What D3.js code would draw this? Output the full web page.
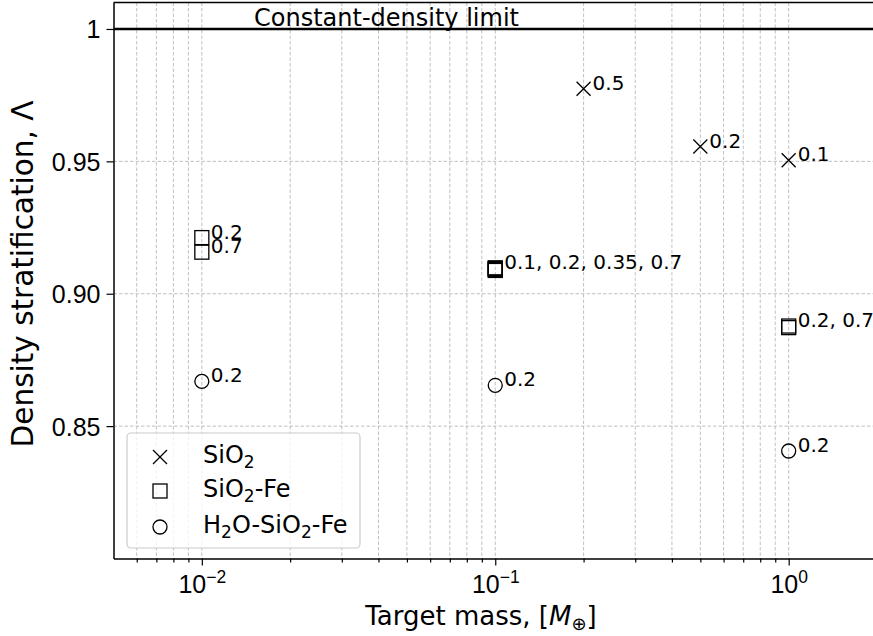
<!DOCTYPE html>
<html lang="en">
<head>
<meta charset="UTF-8">
<script src="https://d3js.org/d3.v7.min.js"></script>
<style>
  body { margin: 0; background: #fff; }
  svg { display: block; font-family: "DejaVu Sans", sans-serif; }
</style>
</head>
<body>
<svg id="chart" width="873" height="636"></svg>
<script>
// data
const sio2Mass = [0.2, 0.5, 1.0];
const sio2Lambda = [0.9774, 0.9556, 0.9504];
const sio2Notes = ["0.5", "0.2", "0.1"];

const sio2FeMass = [0.01, 0.01, 0.1, 0.1, 0.1, 0.1, 1.0, 1.0];
const sio2FeLambda = [0.9212, 0.9157, 0.9088, 0.9092, 0.9095, 0.9098, 0.8872, 0.8878];
const sio2FeNotes = ["0.2", "0.7", "", "", "", "0.1, 0.2, 0.35, 0.7", "", "0.2, 0.7"];

const h2oMass = [0.01, 0.1, 1.0];
const h2oLambda = [0.8669, 0.8654, 0.8406];
const h2oNotes = ["0.2", "0.2", "0.2"];

const yTicks = [0.85, 0.90, 0.95, 1.0];
const yTickLabels = ["0.85", "0.90", "0.95", "1"];
const xMajor = [0.01, 0.1, 1];
const xMajorExp = ["\u22122", "\u22121", "0"];

function plot() {
  const svg = d3.select("#chart");
  const left = 113.5, right = 877, top = 2.5, bottom = 558.5;

  const x = d3.scaleLog().domain([0.005, 2]).range([left, right]);
  const y = d3.scaleLinear().domain([0.80, 1.01]).range([bottom, top]);

  // minor ticks for the log axis
  const xMinor = [];
  for (let dec of [0.001, 0.01, 0.1, 1]) {
    for (let k = 2; k <= 9; k++) {
      const v = dec * k;
      if (v > 0.005 && v <= 2) xMinor.push(v);
    }
  }

  const grid = svg.append("g").attr("stroke", "#b0b0b0").attr("stroke-width", 0.8)
    .attr("stroke-dasharray", "3.5,2");
  grid.selectAll("line.xg").data(xMajor.concat(xMinor)).enter().append("line")
    .attr("x1", d => x(d)).attr("x2", d => x(d))
    .attr("y1", top).attr("y2", bottom);
  grid.selectAll("line.yg").data(yTicks.slice(0, 3)).enter().append("line")
    .attr("x1", left).attr("x2", right)
    .attr("y1", d => y(d)).attr("y2", d => y(d));

  // constant-density line
  svg.append("line")
    .attr("x1", left).attr("x2", right)
    .attr("y1", y(1)).attr("y2", y(1))
    .attr("stroke", "#000").attr("stroke-width", 2.5);
  svg.append("text")
    .attr("x", 254).attr("y", y(1) - 3)
    .attr("font-size", 24)
    .text("Constant-density limit");

  // axes
  const xAxis = svg.append("g").attr("transform", `translate(0,${bottom})`)
    .call(d3.axisBottom(x).tickValues(xMajor).tickFormat("").tickSize(7).tickSizeOuter(0));
  svg.append("g").attr("transform", `translate(0,${bottom})`)
    .call(d3.axisBottom(x).tickValues(xMinor).tickFormat("").tickSize(4).tickSizeOuter(0))
    .select(".domain").remove();
  xAxis.selectAll(".tick").each(function(d, i) {
    const t = d3.select(this).append("text")
      .attr("fill", "#000").attr("y", 34.5).attr("font-size", 25)
      .attr("text-anchor", "middle");
    t.append("tspan").text("10");
    t.append("tspan").attr("dy", -10).attr("font-size", 17.5).text(xMajorExp[i]);
  });

  const yAxis = svg.append("g").attr("transform", `translate(${left},0)`)
    .call(d3.axisLeft(y).tickValues(yTicks).tickSize(7).tickSizeOuter(0)
      .tickFormat((d, i) => yTickLabels[i]));
  yAxis.selectAll(".tick text").attr("font-size", 25).attr("x", -13).attr("dy", "0.36em");
  svg.selectAll(".domain").attr("stroke-width", 1.5);
  svg.selectAll(".tick line").attr("stroke-width", 1.2);

  // top spine
  svg.append("line").attr("x1", left).attr("x2", right)
    .attr("y1", top).attr("y2", top).attr("stroke", "#000").attr("stroke-width", 1.5);

  // axis labels
  const xl = svg.append("text").attr("x", 481).attr("y", 625)
    .attr("text-anchor", "middle").attr("font-size", 26);
  xl.append("tspan").text("Target mass, [");
  xl.append("tspan").attr("font-style", "italic").text("M");
  xl.append("tspan").attr("dy", 5).attr("font-size", 18).text("\u2295");
  xl.append("tspan").attr("dy", -5).text("]");

  svg.append("text")
    .attr("transform", `translate(33,274) rotate(-90)`)
    .attr("text-anchor", "middle").attr("font-size", 29.5)
    .text("Density stratification, \u039B");

  // markers
  const ms = 7;
  const cross = d3.line()([[-ms, -ms], [ms, ms]]) + d3.line()([[-ms, ms], [ms, -ms]]);

  const g1 = svg.append("g");
  g1.selectAll("path").data(sio2Mass).enter().append("path")
    .attr("transform", (d, i) => `translate(${x(d)},${y(sio2Lambda[i])})`)
    .attr("d", cross).attr("stroke", "#000").attr("stroke-width", 1.3).attr("fill", "none");

  const g2 = svg.append("g");
  g2.selectAll("rect").data(sio2FeMass).enter().append("rect")
    .attr("x", d => x(d) - ms).attr("y", (d, i) => y(sio2FeLambda[i]) - ms)
    .attr("width", 2 * ms).attr("height", 2 * ms)
    .attr("fill", "none").attr("stroke", "#000").attr("stroke-width", 1.3);

  const g3 = svg.append("g");
  g3.selectAll("circle").data(h2oMass).enter().append("circle")
    .attr("cx", d => x(d)).attr("cy", (d, i) => y(h2oLambda[i])).attr("r", ms)
    .attr("fill", "none").attr("stroke", "#000").attr("stroke-width", 1.3);

  // annotations
  const notes = [];
  sio2Mass.forEach((m, i) => notes.push([m, sio2Lambda[i], sio2Notes[i]]));
  sio2FeMass.forEach((m, i) => notes.push([m, sio2FeLambda[i], sio2FeNotes[i]]));
  h2oMass.forEach((m, i) => notes.push([m, h2oLambda[i], h2oNotes[i]]));
  svg.append("g").selectAll("text").data(notes.filter(d => d[2])).enter().append("text")
    .attr("x", d => x(d[0]) + 9).attr("y", d => y(d[1]) + 1)
    .attr("font-size", 20).text(d => d[2]);

  // legend
  const lg = svg.append("g");
  lg.append("rect").attr("x", 127).attr("y", 433).attr("width", 233).attr("height", 115)
    .attr("rx", 4).attr("fill", "#fff").attr("fill-opacity", 0.8)
    .attr("stroke", "#cccccc").attr("stroke-width", 1.2);
  const rows = [457, 491, 527];
  lg.append("path").attr("transform", `translate(160,${rows[0]})`)
    .attr("d", cross).attr("stroke", "#000").attr("stroke-width", 1.3).attr("fill", "none");
  lg.append("rect").attr("x", 160 - ms).attr("y", rows[1] - ms).attr("width", 2 * ms).attr("height", 2 * ms)
    .attr("stroke", "#000").attr("stroke-width", 1.3).attr("fill", "none");
  lg.append("circle").attr("cx", 160).attr("cy", rows[2]).attr("r", ms)
    .attr("stroke", "#000").attr("stroke-width", 1.3).attr("fill", "none");

  const legendParts = [
    [["SiO", 0], ["2", 1]],
    [["SiO", 0], ["2", 1], ["-Fe", 0]],
    [["H", 0], ["2", 1], ["O-SiO", 0], ["2", 1], ["-Fe", 0]]
  ];
  legendParts.forEach((parts, r) => {
    const t = lg.append("text").attr("x", 203).attr("y", rows[r] + 6).attr("font-size", 24);
    let sub = 0;
    parts.forEach(p => {
      const dy = p[1] - sub;
      t.append("tspan").attr("dy", dy * 5).attr("font-size", p[1] ? 17 : 24).text(p[0]);
      sub = p[1];
    });
  });
}
plot();
</script>
</body>
</html>
